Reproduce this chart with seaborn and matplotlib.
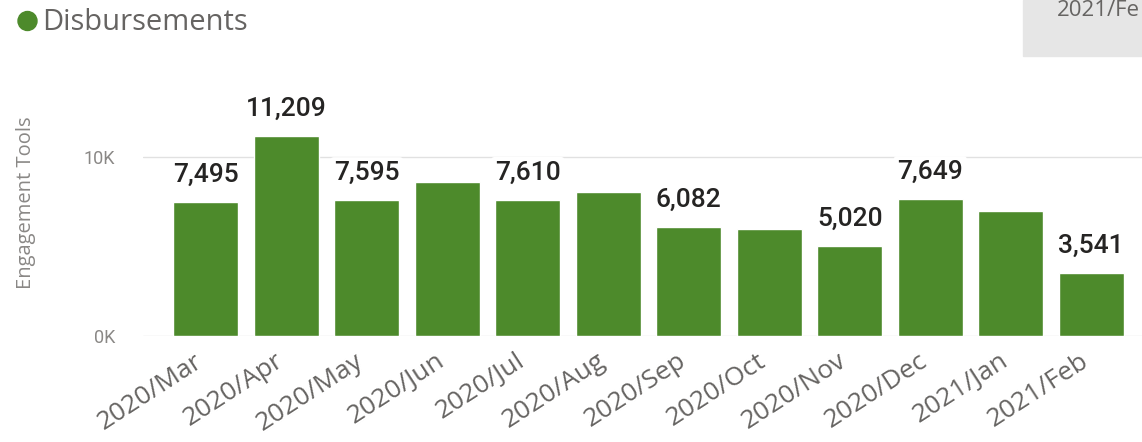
import matplotlib
matplotlib.use("Agg")
import matplotlib.pyplot as plt
from matplotlib.patches import Ellipse, Rectangle
from matplotlib.ticker import FuncFormatter
import matplotlib.transforms as mtransforms
import seaborn as sns
import pandas as pd

# --- data ---
months = ["2020/Mar", "2020/Apr", "2020/May", "2020/Jun", "2020/Jul", "2020/Aug",
          "2020/Sep", "2020/Oct", "2020/Nov", "2020/Dec", "2021/Jan", "2021/Feb"]
values = [7495, 11209, 7595, 8630, 7610, 8090, 6082, 6000, 5020, 7649, 7000, 3541]
# Power BI hid the labels that would overlap; these are the ones shown
labelled = ["2020/Mar", "2020/Apr", "2020/May", "2020/Jul", "2020/Sep",
            "2020/Nov", "2020/Dec", "2021/Feb"]
ytick_vals = [0, 10000]

df = pd.DataFrame({"month": months, "value": values})

sns.set_theme(style="white")
plt.rcParams["font.family"] = ["Open Sans", "DejaVu Sans"]
narrow = ["Roboto", "DejaVu Sans"]

green = "#4d8a2b"
grey_txt = "#666462"
light_txt = "#8a8886"

fig = plt.figure(figsize=(11.42, 4.42), dpi=100)
ax = fig.add_axes([0.1252, 0.2398, 0.8748, 0.6018])

sns.barplot(data=df, x="month", y="value", color=green, width=0.81,
            saturation=1, ax=ax)

ax.set_ylim(0, 14900)
ax.set_xlim(-0.78, 11.63)
ax.set_yticks(ytick_vals)
ax.yaxis.set_major_formatter(FuncFormatter(lambda v, p: f"{int(v / 1000)}K"))
ax.grid(axis="y", color="#e1e1e1", linewidth=1)
ax.set_axisbelow(True)
for s in ax.spines.values():
    s.set_visible(False)
ax.tick_params(axis="both", length=0)
ax.tick_params(axis="y", pad=20)
ax.tick_params(axis="x", pad=9)

for lab in ax.get_yticklabels():
    lab.set_family(narrow)
    lab.set_fontsize(13)
    lab.set_color(light_txt)

offset = mtransforms.ScaledTranslation(-0.12, 0.0, fig.dpi_scale_trans)
for lab in ax.get_xticklabels():
    lab.set_rotation(33)
    lab.set_ha("right")
    lab.set_va("top")
    lab.set_rotation_mode("anchor")
    lab.set_fontsize(19)
    lab.set_color(grey_txt)
    lab.set_transform(lab.get_transform() + offset)
ax.set_xlabel("")
ax.set_ylabel("Engagement Tools", fontsize=14.5, color=light_txt, labelpad=34)

# data labels above the bars
for i, (m, v) in enumerate(zip(months, values)):
    if m not in labelled:
        continue
    ax.annotate(f"{v:,}", (i, v), xytext=(0, 11), textcoords="offset points",
                ha="center", va="bottom", fontsize=19, color="#252423",
                family=narrow, fontweight="medium", annotation_clip=False,
                bbox=dict(boxstyle="round,pad=0.15", fc="white", ec="none"))

# legend-like title
fig.patches.append(Ellipse((27.5 / 1142, 1 - 21 / 442), 19 / 1142, 19 / 442,
                           transform=fig.transFigure, color=green))
fig.text(42 / 1142, 1 - 23 / 442, "Disbursements", fontsize=21, color=grey_txt,
         va="center", ha="left")

# clipped slicer box in the top right corner
fig.patches.append(Rectangle((1023 / 1142, 1 - 56 / 442), 1, 56 / 442,
                             transform=fig.transFigure, color="#e6e6e6", zorder=0))
fig.text(1057 / 1142, 1 - 10 / 442, "2021/Fe", fontsize=16, color=grey_txt,
         va="center", ha="left")

fig.savefig("out.png", dpi=100)
